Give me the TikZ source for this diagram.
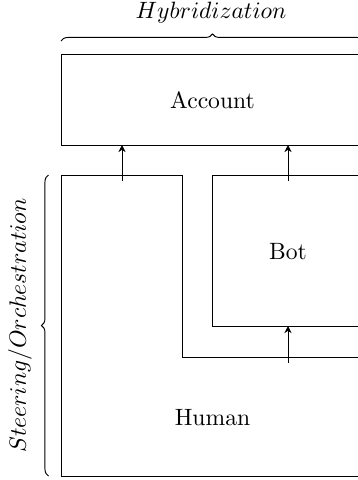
\documentclass[tikz,border=0pt]{standalone}
\usetikzlibrary{arrows.meta,decorations.pathreplacing}
\begin{document}
\begin{tikzpicture}[x=0.4237pt,y=-0.4237pt,
  box/.style={draw,line width=0.4pt},
  flow/.style={-{Stealth[length=3pt,width=3pt]},line width=0.4pt},
  bracket/.style={decorate,decoration={brace,amplitude=3pt},line width=0.4pt}]
\useasboundingbox (0,0) rectangle (358,480);
% layers
\draw[box] (61,54) rectangle (364,145);
\node (acc) at (212.5,100) {Account};
\draw[box] (61,175) -- (182,175) -- (182,357) -- (364,357) -- (364,476) -- (61,476) -- cycle;
\node (hum) at (212.5,418) {Human};
\draw[box] (212,175) rectangle (364,326);
\node (bot) at (288,252) {Bot};
% anchors for the flows
\coordinate (h1) at (122,181);
\coordinate (a1) at (122,145);
\coordinate (b1) at (288,181);
\coordinate (a2) at (288,145);
\coordinate (h2) at (288,363);
\coordinate (b2) at (288,326);
\draw[flow] (h1) -- (a1);
\draw[flow] (b1) -- (a2);
\draw[flow] (h2) -- (b2);
% braces
\coordinate (tl) at (61,41);
\coordinate (tr) at (364,41);
\draw[bracket] (tl) -- (tr);
\node (hyb) at (211,13) {$Hybridization$};
\coordinate (lb) at (48.5,476);
\coordinate (lt) at (48.5,175);
\draw[bracket] (lb) -- (lt);
\node[rotate=90] (st) at (20,325.5) {$Steering/Orchestration$};
\end{tikzpicture}
\end{document}
